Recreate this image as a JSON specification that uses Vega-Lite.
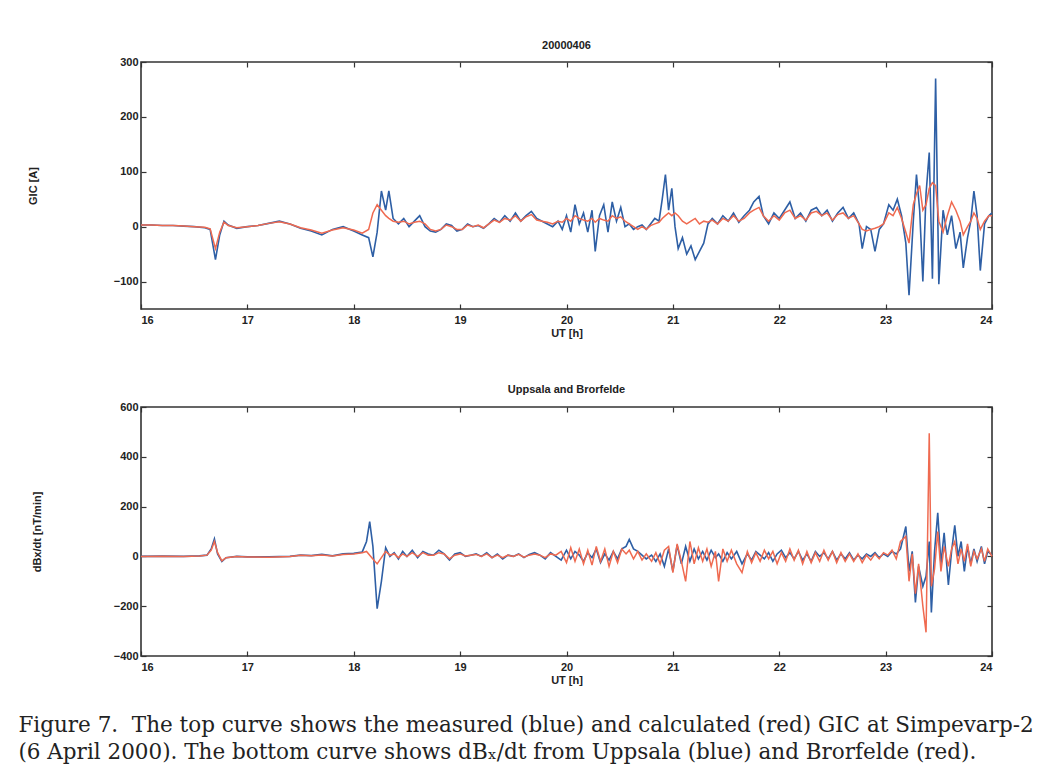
{
  "$schema": "https://vega.github.io/schema/vega-lite/v6.json",
  "background": "white",
  "padding": {"left": 18, "top": 39, "right": 55, "bottom": 20},
  "spacing": 44,
  "title": {
    "text": ["Figure 7.\u00a0\u00a0The top curve shows the measured (blue) and calculated (red) GIC at Simpevarp-2", "(6 April 2000). The bottom curve shows dBₓ/dt from Uppsala (blue) and Brorfelde (red)."],
    "orient": "bottom", "anchor": "start", "frame": "bounds", "dx": -8,
    "font": "DejaVu Serif", "fontSize": 21.5, "fontWeight": "normal", "color": "#222",
    "offset": 29, "lineHeight": 27
  },
  "datasets": {
    "gic": [
      {"t":16.0,"b":3,"r":3},{"t":16.1,"b":3,"r":3},{"t":16.2,"b":2,"r":2},{"t":16.3,"b":2,"r":2},{"t":16.4,"b":1,"r":1},{"t":16.5,"b":0,"r":0},{"t":16.6,"b":-2,"r":-1},{"t":16.65,"b":-5,"r":-4},{"t":16.7,"b":-60,"r":-40},{"t":16.74,"b":-15,"r":-10},{"t":16.78,"b":10,"r":8},{"t":16.82,"b":3,"r":2},{"t":16.9,"b":-3,"r":-2},{"t":17.0,"b":0,"r":0},{"t":17.1,"b":2,"r":2},{"t":17.2,"b":6,"r":6},{"t":17.3,"b":10,"r":9},{"t":17.4,"b":5,"r":5},{"t":17.5,"b":-3,"r":-2},{"t":17.6,"b":-8,"r":-6},{"t":17.7,"b":-15,"r":-12},{"t":17.8,"b":-5,"r":-6},{"t":17.9,"b":0,"r":-2},{"t":18.0,"b":-8,"r":-6},{"t":18.08,"b":-15,"r":-12},{"t":18.14,"b":-20,"r":-5},{"t":18.18,"b":-55,"r":25},{"t":18.22,"b":-10,"r":40},{"t":18.26,"b":65,"r":30},{"t":18.3,"b":30,"r":20},{"t":18.33,"b":65,"r":15},{"t":18.37,"b":15,"r":10},{"t":18.42,"b":5,"r":8},{"t":18.47,"b":15,"r":10},{"t":18.52,"b":0,"r":5},{"t":18.57,"b":10,"r":8},{"t":18.62,"b":20,"r":10},{"t":18.67,"b":0,"r":5},{"t":18.72,"b":-8,"r":-5},{"t":18.77,"b":-10,"r":-8},{"t":18.82,"b":-5,"r":-5},{"t":18.87,"b":5,"r":3},{"t":18.92,"b":2,"r":0},{"t":18.97,"b":-8,"r":-5},{"t":19.02,"b":-5,"r":-5},{"t":19.07,"b":5,"r":3},{"t":19.12,"b":0,"r":0},{"t":19.17,"b":2,"r":3},{"t":19.22,"b":-3,"r":-2},{"t":19.27,"b":5,"r":5},{"t":19.32,"b":15,"r":12},{"t":19.37,"b":8,"r":8},{"t":19.42,"b":20,"r":15},{"t":19.47,"b":10,"r":12},{"t":19.52,"b":25,"r":20},{"t":19.57,"b":10,"r":10},{"t":19.62,"b":20,"r":18},{"t":19.67,"b":28,"r":22},{"t":19.72,"b":15,"r":12},{"t":19.77,"b":10,"r":10},{"t":19.82,"b":5,"r":8},{"t":19.87,"b":0,"r":5},{"t":19.92,"b":10,"r":10},{"t":19.96,"b":-5,"r":8},{"t":20.0,"b":20,"r":15},{"t":20.04,"b":-10,"r":10},{"t":20.08,"b":40,"r":20},{"t":20.12,"b":5,"r":15},{"t":20.16,"b":25,"r":12},{"t":20.2,"b":-10,"r":10},{"t":20.24,"b":30,"r":15},{"t":20.27,"b":-45,"r":8},{"t":20.31,"b":20,"r":15},{"t":20.35,"b":40,"r":12},{"t":20.39,"b":-10,"r":10},{"t":20.43,"b":45,"r":20},{"t":20.47,"b":10,"r":15},{"t":20.51,"b":35,"r":18},{"t":20.55,"b":0,"r":10},{"t":20.59,"b":5,"r":5},{"t":20.63,"b":-5,"r":0},{"t":20.67,"b":0,"r":-5},{"t":20.71,"b":3,"r":0},{"t":20.75,"b":-5,"r":-5},{"t":20.79,"b":5,"r":2},{"t":20.83,"b":15,"r":5},{"t":20.87,"b":10,"r":8},{"t":20.9,"b":50,"r":15},{"t":20.93,"b":95,"r":20},{"t":20.96,"b":30,"r":25},{"t":20.99,"b":70,"r":20},{"t":21.02,"b":0,"r":25},{"t":21.05,"b":-40,"r":20},{"t":21.09,"b":-20,"r":10},{"t":21.13,"b":-50,"r":5},{"t":21.17,"b":-35,"r":10},{"t":21.21,"b":-60,"r":15},{"t":21.25,"b":-45,"r":5},{"t":21.29,"b":-30,"r":10},{"t":21.33,"b":5,"r":8},{"t":21.37,"b":15,"r":12},{"t":21.42,"b":5,"r":5},{"t":21.47,"b":20,"r":15},{"t":21.52,"b":10,"r":10},{"t":21.57,"b":25,"r":20},{"t":21.62,"b":8,"r":10},{"t":21.67,"b":20,"r":15},{"t":21.72,"b":30,"r":25},{"t":21.76,"b":45,"r":30},{"t":21.81,"b":55,"r":35},{"t":21.85,"b":20,"r":20},{"t":21.9,"b":5,"r":10},{"t":21.95,"b":25,"r":20},{"t":22.0,"b":15,"r":12},{"t":22.05,"b":30,"r":25},{"t":22.1,"b":45,"r":30},{"t":22.15,"b":15,"r":15},{"t":22.2,"b":25,"r":20},{"t":22.25,"b":10,"r":12},{"t":22.3,"b":30,"r":25},{"t":22.35,"b":35,"r":28},{"t":22.4,"b":20,"r":20},{"t":22.45,"b":30,"r":25},{"t":22.5,"b":10,"r":12},{"t":22.55,"b":25,"r":22},{"t":22.6,"b":35,"r":25},{"t":22.65,"b":15,"r":15},{"t":22.7,"b":25,"r":20},{"t":22.75,"b":5,"r":5},{"t":22.78,"b":-40,"r":-5},{"t":22.82,"b":0,"r":-8},{"t":22.86,"b":-5,"r":-5},{"t":22.9,"b":-45,"r":-3},{"t":22.94,"b":-5,"r":0},{"t":22.98,"b":5,"r":5},{"t":23.03,"b":40,"r":25},{"t":23.07,"b":30,"r":20},{"t":23.11,"b":50,"r":35},{"t":23.15,"b":20,"r":15},{"t":23.19,"b":-30,"r":-10},{"t":23.22,"b":-125,"r":-30},{"t":23.26,"b":10,"r":40},{"t":23.29,"b":95,"r":60},{"t":23.32,"b":30,"r":75},{"t":23.35,"b":-100,"r":30},{"t":23.38,"b":60,"r":40},{"t":23.41,"b":135,"r":70},{"t":23.44,"b":-95,"r":80},{"t":23.47,"b":270,"r":75},{"t":23.5,"b":-105,"r":10},{"t":23.54,"b":30,"r":-10},{"t":23.58,"b":-15,"r":20},{"t":23.62,"b":20,"r":45},{"t":23.66,"b":-40,"r":30},{"t":23.7,"b":-10,"r":10},{"t":23.73,"b":-75,"r":-15},{"t":23.77,"b":-20,"r":0},{"t":23.8,"b":10,"r":10},{"t":23.83,"b":65,"r":25},{"t":23.86,"b":20,"r":15},{"t":23.89,"b":-80,"r":-5},{"t":23.93,"b":5,"r":10},{"t":23.97,"b":20,"r":20},{"t":24.0,"b":25,"r":20}
    ],
    "dbdt": [
      {"t":16.0,"b":0,"r":0},{"t":16.2,"b":1,"r":1},{"t":16.4,"b":0,"r":0},{"t":16.55,"b":2,"r":2},{"t":16.62,"b":5,"r":5},{"t":16.66,"b":30,"r":25},{"t":16.69,"b":70,"r":60},{"t":16.72,"b":10,"r":15},{"t":16.76,"b":-20,"r":-18},{"t":16.8,"b":-5,"r":-5},{"t":16.9,"b":0,"r":0},{"t":17.0,"b":-2,"r":-2},{"t":17.2,"b":-2,"r":-3},{"t":17.4,"b":0,"r":0},{"t":17.5,"b":5,"r":5},{"t":17.6,"b":3,"r":3},{"t":17.7,"b":8,"r":6},{"t":17.8,"b":2,"r":2},{"t":17.9,"b":10,"r":8},{"t":18.0,"b":12,"r":10},{"t":18.08,"b":18,"r":15},{"t":18.12,"b":60,"r":20},{"t":18.15,"b":140,"r":5},{"t":18.18,"b":40,"r":-10},{"t":18.22,"b":-210,"r":-30},{"t":18.26,"b":-100,"r":-5},{"t":18.3,"b":35,"r":20},{"t":18.34,"b":0,"r":5},{"t":18.38,"b":15,"r":10},{"t":18.42,"b":-10,"r":-5},{"t":18.46,"b":20,"r":10},{"t":18.5,"b":0,"r":0},{"t":18.55,"b":25,"r":15},{"t":18.6,"b":-5,"r":0},{"t":18.65,"b":20,"r":15},{"t":18.7,"b":10,"r":5},{"t":18.75,"b":5,"r":5},{"t":18.8,"b":25,"r":15},{"t":18.85,"b":10,"r":10},{"t":18.9,"b":-15,"r":-10},{"t":18.95,"b":10,"r":5},{"t":19.0,"b":15,"r":10},{"t":19.05,"b":0,"r":2},{"t":19.1,"b":5,"r":5},{"t":19.15,"b":10,"r":8},{"t":19.2,"b":0,"r":0},{"t":19.25,"b":15,"r":10},{"t":19.3,"b":-5,"r":-5},{"t":19.35,"b":10,"r":5},{"t":19.4,"b":-10,"r":-5},{"t":19.45,"b":5,"r":5},{"t":19.5,"b":0,"r":0},{"t":19.55,"b":10,"r":8},{"t":19.6,"b":-5,"r":-3},{"t":19.65,"b":8,"r":5},{"t":19.7,"b":15,"r":10},{"t":19.75,"b":5,"r":5},{"t":19.8,"b":-10,"r":-5},{"t":19.85,"b":15,"r":10},{"t":19.9,"b":0,"r":5},{"t":19.95,"b":-15,"r":20},{"t":20.0,"b":25,"r":-25},{"t":20.04,"b":-10,"r":35},{"t":20.08,"b":20,"r":-20},{"t":20.12,"b":5,"r":30},{"t":20.16,"b":-20,"r":-30},{"t":20.2,"b":15,"r":25},{"t":20.24,"b":-5,"r":-35},{"t":20.28,"b":30,"r":40},{"t":20.32,"b":-25,"r":-20},{"t":20.36,"b":10,"r":30},{"t":20.4,"b":-15,"r":-40},{"t":20.44,"b":20,"r":20},{"t":20.48,"b":-10,"r":-25},{"t":20.52,"b":30,"r":30},{"t":20.56,"b":40,"r":10},{"t":20.59,"b":68,"r":25},{"t":20.63,"b":30,"r":-10},{"t":20.67,"b":20,"r":20},{"t":20.71,"b":5,"r":-15},{"t":20.75,"b":-10,"r":10},{"t":20.8,"b":5,"r":-20},{"t":20.84,"b":-20,"r":15},{"t":20.88,"b":10,"r":-30},{"t":20.92,"b":-40,"r":25},{"t":20.96,"b":30,"r":40},{"t":21.0,"b":-60,"r":-65},{"t":21.04,"b":45,"r":50},{"t":21.08,"b":-30,"r":-20},{"t":21.12,"b":40,"r":-100},{"t":21.16,"b":-20,"r":60},{"t":21.2,"b":30,"r":-30},{"t":21.24,"b":-10,"r":35},{"t":21.28,"b":20,"r":-20},{"t":21.32,"b":-15,"r":30},{"t":21.36,"b":25,"r":-40},{"t":21.4,"b":-5,"r":20},{"t":21.43,"b":10,"r":-100},{"t":21.47,"b":-20,"r":30},{"t":21.51,"b":15,"r":-20},{"t":21.55,"b":-10,"r":25},{"t":21.6,"b":20,"r":-30},{"t":21.65,"b":-30,"r":-65},{"t":21.7,"b":10,"r":20},{"t":21.74,"b":-15,"r":-25},{"t":21.78,"b":20,"r":15},{"t":21.82,"b":5,"r":-20},{"t":21.86,"b":-10,"r":25},{"t":21.9,"b":15,"r":-10},{"t":21.94,"b":-20,"r":20},{"t":21.98,"b":10,"r":-30},{"t":22.02,"b":25,"r":15},{"t":22.06,"b":-5,"r":-20},{"t":22.1,"b":15,"r":30},{"t":22.14,"b":-10,"r":-15},{"t":22.18,"b":20,"r":25},{"t":22.22,"b":-15,"r":-30},{"t":22.26,"b":10,"r":20},{"t":22.3,"b":-20,"r":-25},{"t":22.34,"b":20,"r":15},{"t":22.38,"b":0,"r":-20},{"t":22.42,"b":15,"r":25},{"t":22.46,"b":-10,"r":-15},{"t":22.5,"b":20,"r":20},{"t":22.54,"b":-15,"r":-25},{"t":22.58,"b":10,"r":15},{"t":22.62,"b":-10,"r":-20},{"t":22.66,"b":15,"r":10},{"t":22.7,"b":-15,"r":-20},{"t":22.74,"b":5,"r":10},{"t":22.78,"b":-10,"r":-25},{"t":22.82,"b":10,"r":5},{"t":22.86,"b":0,"r":-15},{"t":22.9,"b":15,"r":10},{"t":22.94,"b":-5,"r":-10},{"t":22.98,"b":10,"r":15},{"t":23.02,"b":0,"r":5},{"t":23.06,"b":20,"r":25},{"t":23.1,"b":10,"r":-10},{"t":23.14,"b":30,"r":60},{"t":23.19,"b":120,"r":80},{"t":23.22,"b":-60,"r":-100},{"t":23.25,"b":20,"r":10},{"t":23.28,"b":-185,"r":-150},{"t":23.31,"b":-40,"r":-30},{"t":23.35,"b":-120,"r":-200},{"t":23.38,"b":-80,"r":-305},{"t":23.41,"b":60,"r":495},{"t":23.43,"b":-225,"r":-120},{"t":23.46,"b":20,"r":-50},{"t":23.49,"b":175,"r":100},{"t":23.52,"b":-30,"r":-60},{"t":23.55,"b":95,"r":40},{"t":23.59,"b":-115,"r":-40},{"t":23.62,"b":20,"r":30},{"t":23.65,"b":125,"r":60},{"t":23.68,"b":0,"r":-30},{"t":23.71,"b":60,"r":30},{"t":23.74,"b":-60,"r":-20},{"t":23.77,"b":40,"r":50},{"t":23.8,"b":-30,"r":-40},{"t":23.83,"b":30,"r":20},{"t":23.86,"b":-20,"r":-10},{"t":23.9,"b":40,"r":30},{"t":23.93,"b":-30,"r":-20},{"t":23.96,"b":20,"r":30},{"t":24.0,"b":5,"r":0}
    ]
  },
  "vconcat": [
    {
      "title": {"text": "20000406", "fontSize": 11, "fontWeight": "bold", "font": "Liberation Sans", "color": "#222", "offset": 5},
      "width": 851, "height": 247,
      "data": {"name": "gic"},
      "layer": [
        {
          "mark": {"type": "line", "color": "#2e5fa5", "strokeWidth": 1.6},
          "encoding": {
            "x": {"field": "t", "type": "quantitative", "scale": {"domain": [16, 24], "nice": false},
                  "axis": {"orient": "bottom", "title": "UT [h]", "values": [16,17,18,19,20,21,22,23,24], "tickSize": -5, "labelPadding": 10, "titlePadding": 2}},
            "y": {"field": "b", "type": "quantitative", "scale": {"domain": [-150, 300], "nice": false},
                  "axis": {"orient": "left", "title": "GIC [A]", "values": [-100,0,100,200,300], "tickSize": -5, "labelPadding": 8, "titlePadding": 75}}
          }
        },
        {
          "mark": {"type": "line", "color": "#ef6a50", "strokeWidth": 1.5},
          "encoding": {
            "x": {"field": "t", "type": "quantitative", "axis": {"orient": "top", "labels": false, "title": null, "values": [16,17,18,19,20,21,22,23,24], "tickSize": -5}},
            "y": {"field": "r", "type": "quantitative", "axis": {"orient": "right", "labels": false, "title": null, "values": [-100,0,100,200,300], "tickSize": -5}}
          }
        }
      ]
    },
    {
      "title": {"text": "Uppsala and Brorfelde", "fontSize": 11, "fontWeight": "bold", "font": "Liberation Sans", "color": "#222", "offset": 6},
      "width": 851, "height": 249,
      "data": {"name": "dbdt"},
      "layer": [
        {
          "mark": {"type": "line", "color": "#2e5fa5", "strokeWidth": 1.6},
          "encoding": {
            "x": {"field": "t", "type": "quantitative", "scale": {"domain": [16, 24], "nice": false},
                  "axis": {"orient": "bottom", "title": "UT [h]", "values": [16,17,18,19,20,21,22,23,24], "tickSize": -5, "labelPadding": 10, "titlePadding": 2}},
            "y": {"field": "b", "type": "quantitative", "scale": {"domain": [-400, 600], "nice": false},
                  "axis": {"orient": "left", "title": "dBx/dt [nT/min]", "values": [-400,-200,0,200,400,600], "tickSize": -5, "labelPadding": 8, "titlePadding": 71}}
          }
        },
        {
          "mark": {"type": "line", "color": "#ef6a50", "strokeWidth": 1.5},
          "encoding": {
            "x": {"field": "t", "type": "quantitative", "axis": {"orient": "top", "labels": false, "title": null, "values": [16,17,18,19,20,21,22,23,24], "tickSize": -5}},
            "y": {"field": "r", "type": "quantitative", "axis": {"orient": "right", "labels": false, "title": null, "values": [-400,-200,0,200,400,600], "tickSize": -5}}
          }
        }
      ]
    }
  ],
  "config": {
    "view": {"stroke": "#333", "strokeWidth": 1.6},
    "axis": {"domain": false, "grid": false, "tickColor": "#333", "tickWidth": 1.2,
             "labelFont": "Liberation Sans", "labelFontSize": 11, "labelFontWeight": "bold", "labelColor": "#222",
             "titleFont": "Liberation Sans", "titleFontSize": 11, "titleFontWeight": "bold", "titleColor": "#222"}
  }
}
